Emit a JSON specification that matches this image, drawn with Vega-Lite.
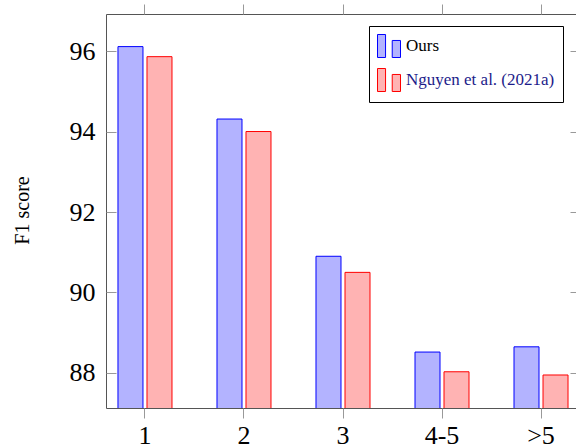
{
  "$schema": "https://vega.github.io/schema/vega-lite/v6.json",
  "width": 474,
  "height": 394,
  "autosize": {"type": "none"},
  "padding": {"left": 106, "top": 14, "right": 0, "bottom": 39},
  "background": "white",
  "config": {
    "view": {"stroke": "#555555", "strokeWidth": 1},
    "font": "Liberation Serif"
  },
  "data": {
    "values": [
      {"hops": "1", "method": "Ours", "f1": 96.11},
      {"hops": "1", "method": "Nguyen et al. (2021a)", "f1": 95.86},
      {"hops": "2", "method": "Ours", "f1": 94.31},
      {"hops": "2", "method": "Nguyen et al. (2021a)", "f1": 94.0},
      {"hops": "3", "method": "Ours", "f1": 90.9},
      {"hops": "3", "method": "Nguyen et al. (2021a)", "f1": 90.5},
      {"hops": "4-5", "method": "Ours", "f1": 88.52},
      {"hops": "4-5", "method": "Nguyen et al. (2021a)", "f1": 88.03},
      {"hops": ">5", "method": "Ours", "f1": 88.65},
      {"hops": ">5", "method": "Nguyen et al. (2021a)", "f1": 87.95}
    ]
  },
  "resolve": {"axis": {"x": "independent", "y": "independent"}},
  "layer": [
    {
      "mark": {"type": "bar", "strokeWidth": 1, "clip": true},
      "encoding": {
        "x": {
          "field": "hops", "type": "nominal",
          "sort": ["1", "2", "3", "4-5", ">5"],
          "scale": {"paddingInner": 0.4545, "paddingOuter": 0.121},
          "axis": {
            "orient": "bottom", "title": null, "labelAngle": 0, "domain": false,
            "tickSize": 10, "tickColor": "#999999", "labelFontSize": 26, "labelColor": "#000000",
            "labelPadding": 4, "labelFont": "Liberation Serif"
          }
        },
        "xOffset": {
          "field": "method", "type": "nominal",
          "sort": ["Ours", "Nguyen et al. (2021a)"],
          "scale": {"paddingInner": 0.138, "paddingOuter": 0}
        },
        "y": {
          "field": "f1", "type": "quantitative",
          "scale": {"domain": [87.13, 96.92], "nice": false, "zero": false},
          "axis": {
            "orient": "left", "title": "F1 score", "values": [88, 90, 92, 94, 96],
            "domain": false, "grid": false, "tickSize": -10, "tickColor": "#999999",
            "labelPadding": 21, "labelFontSize": 26, "labelColor": "#000000", "labelFont": "Liberation Serif",
            "titleFont": "Liberation Serif", "titleFontSize": 20, "titleFontWeight": "normal", "titleColor": "#000000",
            "titleAngle": -90, "titleBaseline": "alphabetic", "titleAlign": "center", "titleX": -78, "titleY": 196
          }
        },
        "fill": {
          "field": "method", "type": "nominal",
          "scale": {"domain": ["Ours", "Nguyen et al. (2021a)"], "range": ["#b3b3ff", "#ffb3b3"]},
          "legend": {
            "title": null, "orient": "none", "legendX": 263, "legendY": 12,
            "strokeColor": "#000000", "fillColor": "#ffffff", "padding": 8, "cornerRadius": 0,
            "rowPadding": 6, "labelOffset": 5, "labelFontSize": 17, "labelFont": "Liberation Serif",
            "symbolType": "M-1,-1H-0.3V1H-1Z M0.28,-0.48H1V1H0.28Z", "symbolSize": 529, "symbolStrokeWidth": 1,
            "symbolOpacity": 1,
            "encode": {"labels": {"update": {"fill": {"signal": "datum.label === 'Ours' ? '#000000' : '#1c1c8a'"}}}}
          }
        },
        "stroke": {
          "field": "method", "type": "nominal",
          "scale": {"domain": ["Ours", "Nguyen et al. (2021a)"], "range": ["#0000ff", "#ff0000"]},
          "legend": {
            "title": null, "orient": "none", "legendX": 263, "legendY": 12,
            "strokeColor": "#000000", "fillColor": "#ffffff", "padding": 8, "cornerRadius": 0,
            "rowPadding": 6, "labelOffset": 5, "labelFontSize": 17, "labelFont": "Liberation Serif",
            "symbolType": "M-1,-1H-0.3V1H-1Z M0.28,-0.48H1V1H0.28Z", "symbolSize": 529, "symbolStrokeWidth": 1,
            "symbolOpacity": 1,
            "encode": {"labels": {"update": {"fill": {"signal": "datum.label === 'Ours' ? '#000000' : '#1c1c8a'"}}}}
          }
        }
      }
    },
    {
      "mark": {"type": "bar", "opacity": 0},
      "encoding": {
        "x": {
          "field": "hops", "type": "nominal",
          "sort": ["1", "2", "3", "4-5", ">5"],
          "axis": {"orient": "top", "title": null, "labels": false, "domain": false, "tickSize": 10, "tickColor": "#999999"}
        },
        "xOffset": {"field": "method", "type": "nominal", "sort": ["Ours", "Nguyen et al. (2021a)"]},
        "y": {
          "field": "f1", "type": "quantitative",
          "axis": {"orient": "right", "title": null, "labels": false, "domain": false, "grid": false,
                   "values": [88, 90, 92, 94, 96], "tickSize": -10, "tickColor": "#999999"}
        }
      }
    }
  ]
}
